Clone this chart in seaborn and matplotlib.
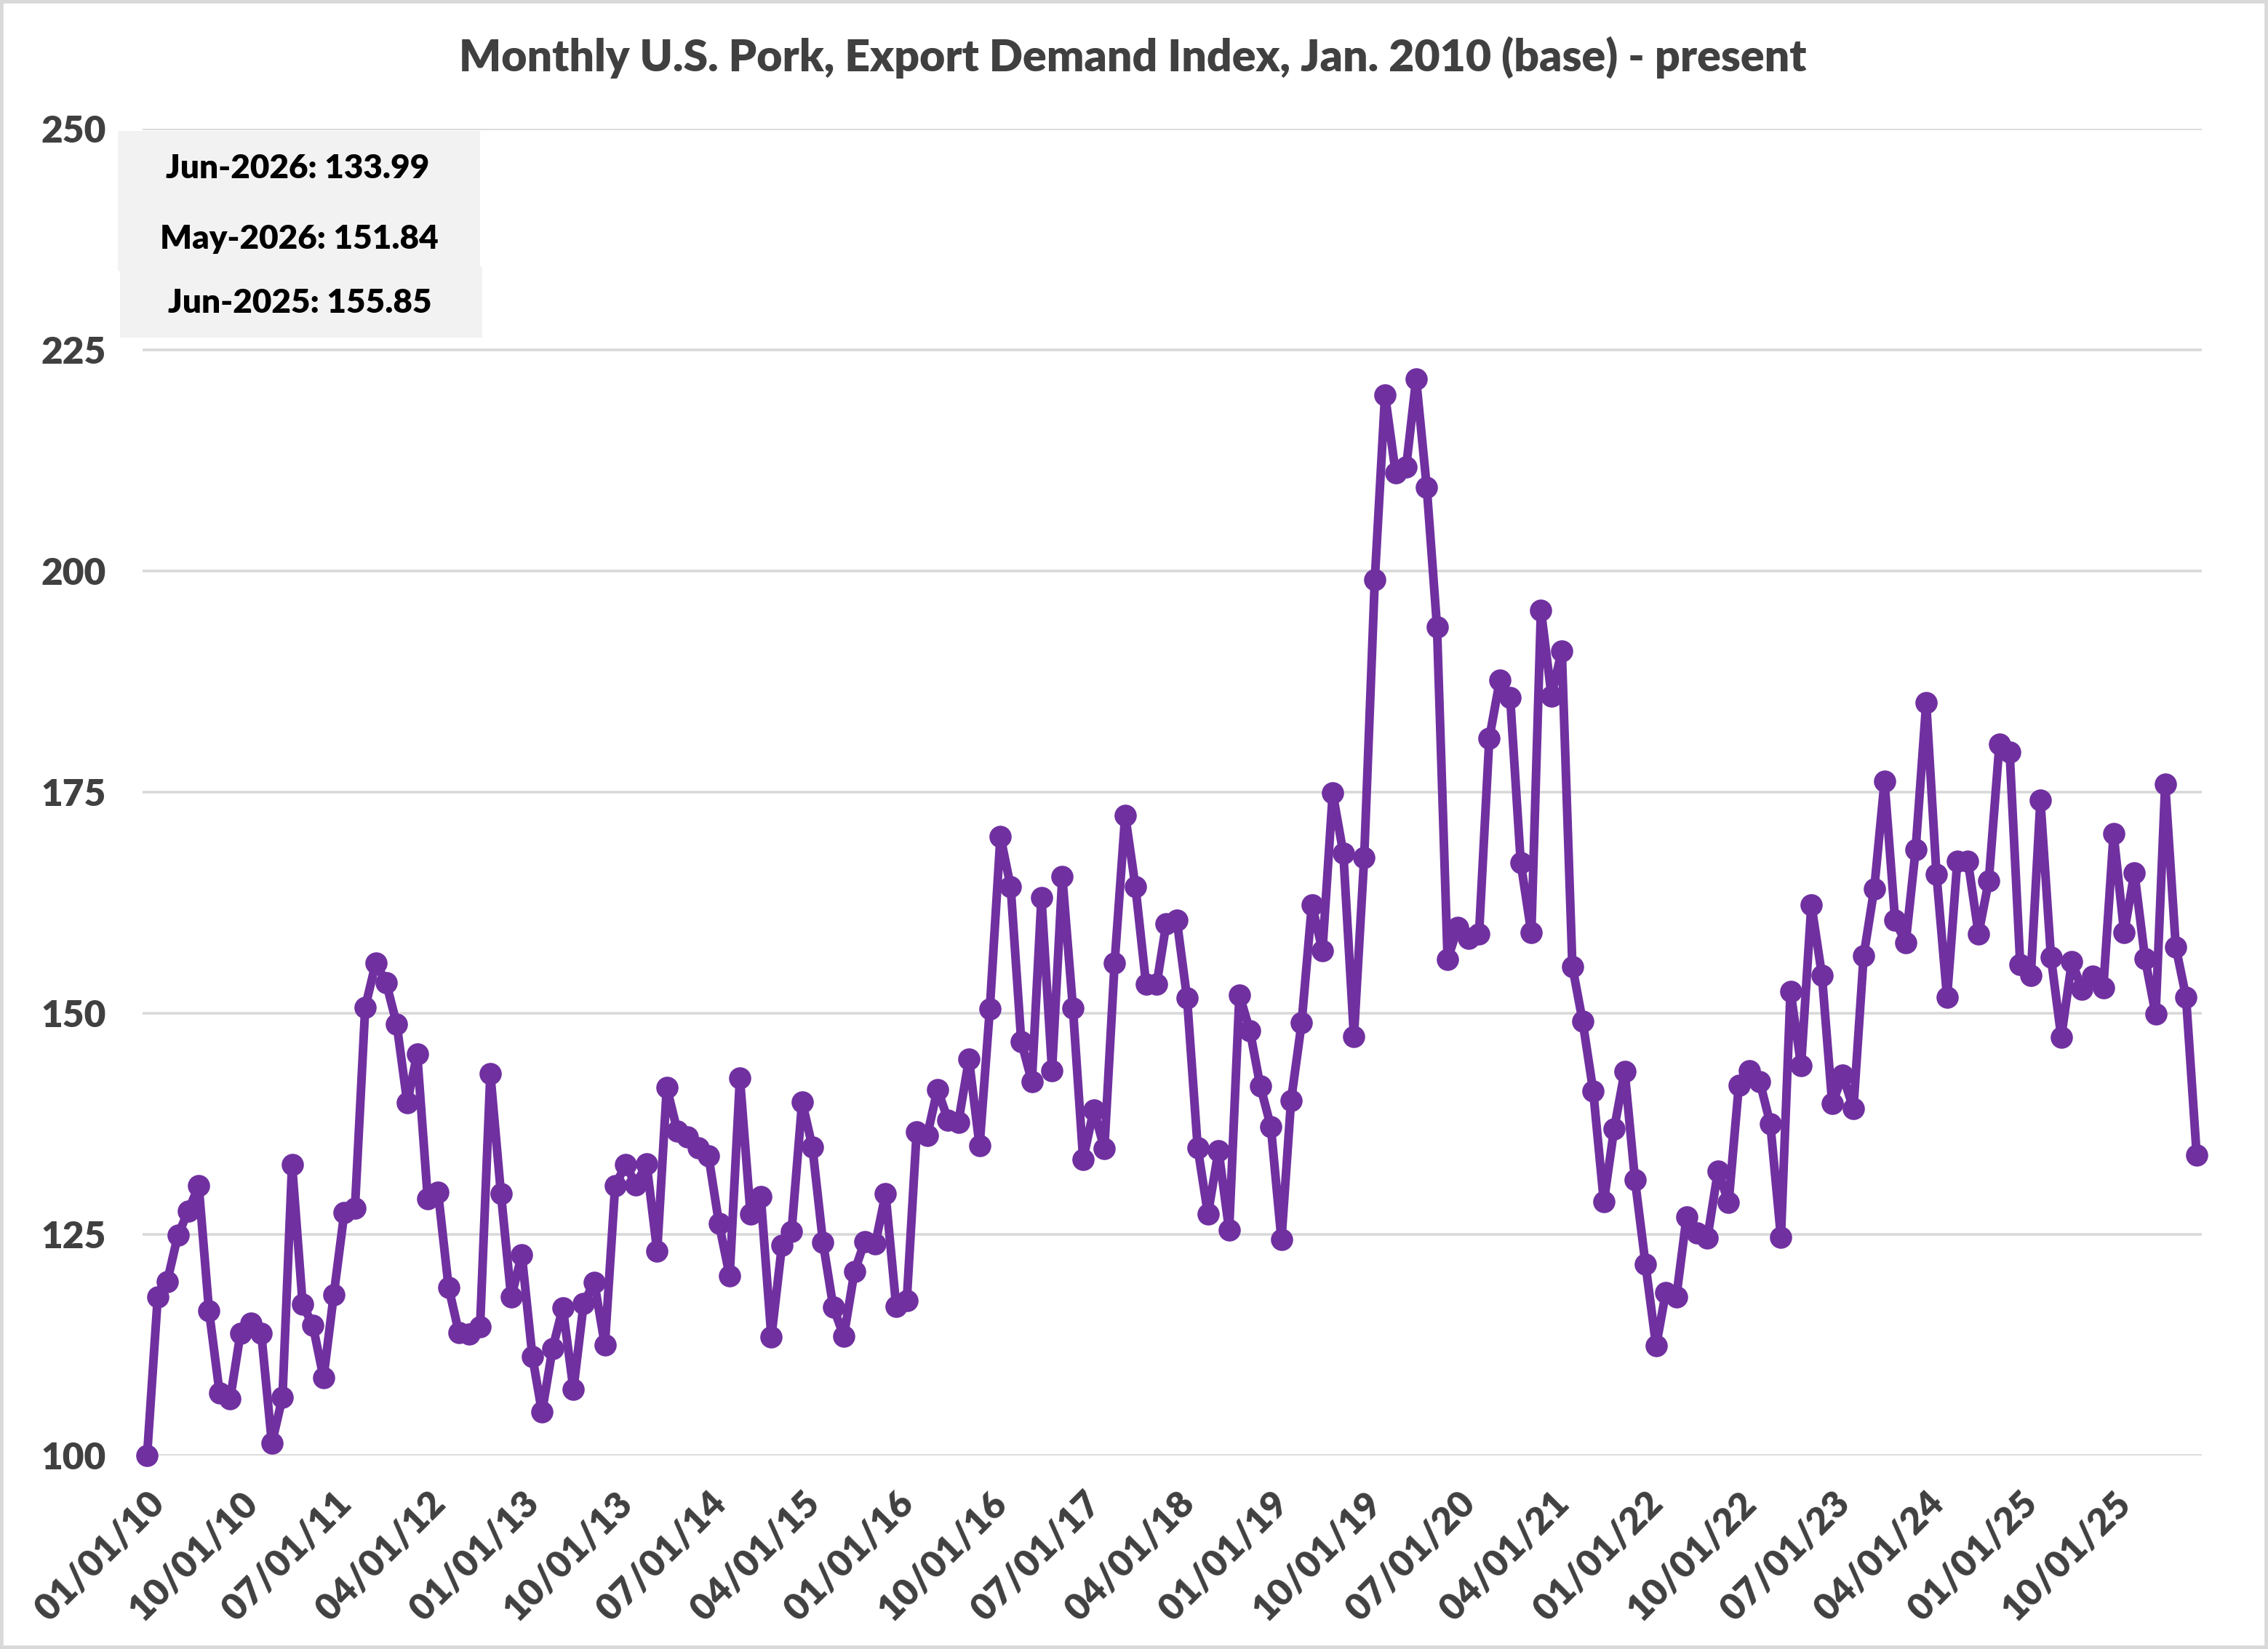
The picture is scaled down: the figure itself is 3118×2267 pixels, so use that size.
import pandas as pd
import matplotlib
matplotlib.use('Agg')
import matplotlib.pyplot as plt
from matplotlib.patches import Rectangle
import seaborn as sns

# monthly export demand index, Jan 2010 = 100
idx_2010 = [100.0, 117.9, 119.7, 124.9, 127.6, 130.5, 116.4, 107.1, 106.4, 113.8, 115.0, 113.8]
idx_2011 = [101.4, 106.6, 132.9, 117.1, 114.7, 108.8, 118.2, 127.5, 128.0, 150.7, 155.7, 153.5]
idx_2012 = [148.8, 139.9, 145.4, 129.0, 129.8, 119.0, 113.9, 113.7, 114.6, 143.2, 129.6, 117.9]
idx_2013 = [122.7, 111.2, 104.9, 112.1, 116.7, 107.5, 117.2, 119.6, 112.5, 130.5, 132.9, 130.6]
idx_2014 = [133.0, 123.1, 141.6, 136.7, 136.0, 134.8, 133.9, 126.2, 120.3, 142.7, 127.3, 129.3]
idx_2015 = [113.4, 123.8, 125.3, 140.0, 134.9, 124.1, 116.8, 113.5, 120.8, 124.2, 123.9, 129.6]
idx_2016 = [116.9, 117.5, 136.6, 136.2, 141.4, 137.9, 137.7, 144.8, 135.0, 150.5, 170.0, 164.3]
idx_2017 = [146.8, 142.3, 163.1, 143.5, 165.5, 150.6, 133.5, 139.1, 134.7, 155.7, 172.4, 164.3]
idx_2018 = [153.3, 153.3, 160.1, 160.5, 151.7, 134.8, 127.3, 134.5, 125.5, 152.1, 148.0, 141.8]
idx_2019 = [137.2, 124.4, 140.1, 148.9, 162.3, 157.1, 174.9, 168.1, 147.4, 167.6, 199.0, 219.9]
idx_2020 = [211.1, 211.8, 221.7, 209.5, 193.7, 156.1, 159.7, 158.5, 159.0, 181.1, 187.7, 185.7]
idx_2021 = [167.0, 159.1, 195.6, 185.9, 191.0, 155.3, 149.1, 141.2, 128.7, 136.9, 143.4, 131.2]
idx_2022 = [121.6, 112.4, 118.4, 117.9, 127.0, 125.2, 124.6, 132.2, 128.6, 141.9, 143.5, 142.3]
idx_2023 = [137.5, 124.7, 152.5, 144.1, 162.3, 154.3, 139.8, 143.0, 139.2, 156.5, 164.1, 176.2]
idx_2024 = [160.5, 158.0, 168.5, 185.1, 165.7, 151.8, 167.2, 167.2, 159.0, 165.0, 180.4, 179.5]
idx_2025 = [155.5, 154.3, 174.1, 156.3, 147.3, 155.85, 152.7, 154.2, 152.9, 170.3, 159.1, 165.9]
idx_2026 = [156.2, 149.9, 175.9, 157.5, 151.84, 133.99]

values = (idx_2010 + idx_2011 + idx_2012 + idx_2013 + idx_2014 + idx_2015 + idx_2016
          + idx_2017 + idx_2018 + idx_2019 + idx_2020 + idx_2021 + idx_2022 + idx_2023
          + idx_2024 + idx_2025 + idx_2026)
months = pd.date_range('2010-01-01', periods=len(values), freq='MS')
df = pd.DataFrame({'Month': months, 'Index': values})

tick_labels = ['01/01/10', '10/01/10', '07/01/11', '04/01/12', '01/01/13', '10/01/13',
               '07/01/14', '04/01/15', '01/01/16', '10/01/16', '07/01/17', '04/01/18',
               '01/01/19', '10/01/19', '07/01/20', '04/01/21', '01/01/22', '10/01/22',
               '07/01/23', '04/01/24', '01/01/25', '10/01/25']
tick_dates = pd.to_datetime(tick_labels, format='%m/%d/%y')

callout_months = ['2026-06', '2026-05', '2025-06']

sns.set_theme(style='white')
plt.rcParams['font.family'] = ['Lato', 'DejaVu Sans']
plt.rcParams['font.weight'] = 'heavy'

purple = '#7030A0'
grey_txt = '#404040'

fig = plt.figure(figsize=(15.59, 11.335), dpi=200)
ax = fig.add_axes([0.0629, 0.1173, 0.9079, 0.8046])

sns.lineplot(data=df, x='Month', y='Index', ax=ax, color=purple, linewidth=4.3,
             marker='o', markersize=10.5, markeredgecolor=purple, markeredgewidth=0.5)
for ln in ax.lines:
    ln.set_clip_on(False)
    ln.set_zorder(3)

ax.set_ylim(100, 250)
ax.set_yticks(range(100, 251, 25))
ax.set_xlim(pd.Timestamp('2009-12-19'), pd.Timestamp('2026-06-16'))
ax.set_xticks(tick_dates)
ax.set_xticklabels(tick_labels, rotation=45, ha='right', rotation_mode='anchor')
ax.set_xlabel('')
ax.set_ylabel('')
ax.grid(axis='y', color='#d9d9d9', linewidth=1.3)
ax.set_axisbelow(True)
for s in ax.spines.values():
    s.set_visible(False)
ax.tick_params(axis='both', length=0, labelsize=18.5, labelcolor=grey_txt)
for lab in ax.get_xticklabels() + ax.get_yticklabels():
    lab.set_fontweight('heavy')
ax.tick_params(axis='y', pad=18)
ax.tick_params(axis='x', pad=15)

fig.text(0.4994, 0.9568, 'Monthly U.S. Pork, Export Demand Index, Jan. 2010 (base) - present',
         ha='center', va='baseline', fontsize=21.9, fontweight='heavy', color=grey_txt)

# callout boxes with latest readings
fig.patches.append(Rectangle((0.0520, 0.8355), 0.1597, 0.0851, transform=fig.transFigure,
                             facecolor='#f2f2f2', edgecolor='none', zorder=4))
fig.patches.append(Rectangle((0.0529, 0.7953), 0.1597, 0.0428, transform=fig.transFigure,
                             facecolor='#f2f2f2', edgecolor='none', zorder=4))
series = df.set_index('Month')['Index']
text_y = [0.892, 0.8492, 0.8103]
text_x = [0.1313, 0.1318, 0.1321]
for m, tx, ty in zip(callout_months, text_x, text_y):
    d = pd.Timestamp(m + '-01')
    fig.text(tx, ty, f"{d.strftime('%b-%Y')}: {series[d]:.2f}", ha='center', va='baseline',
             fontsize=16.5, fontweight='heavy', color='black', zorder=5)

fig.patches.append(Rectangle((0.0008, 0.0011), 0.9984, 0.9978, transform=fig.transFigure,
                             fill=False, edgecolor='#d9d9d9', linewidth=2.0))

fig.savefig('out.png', dpi=200, facecolor='white')
